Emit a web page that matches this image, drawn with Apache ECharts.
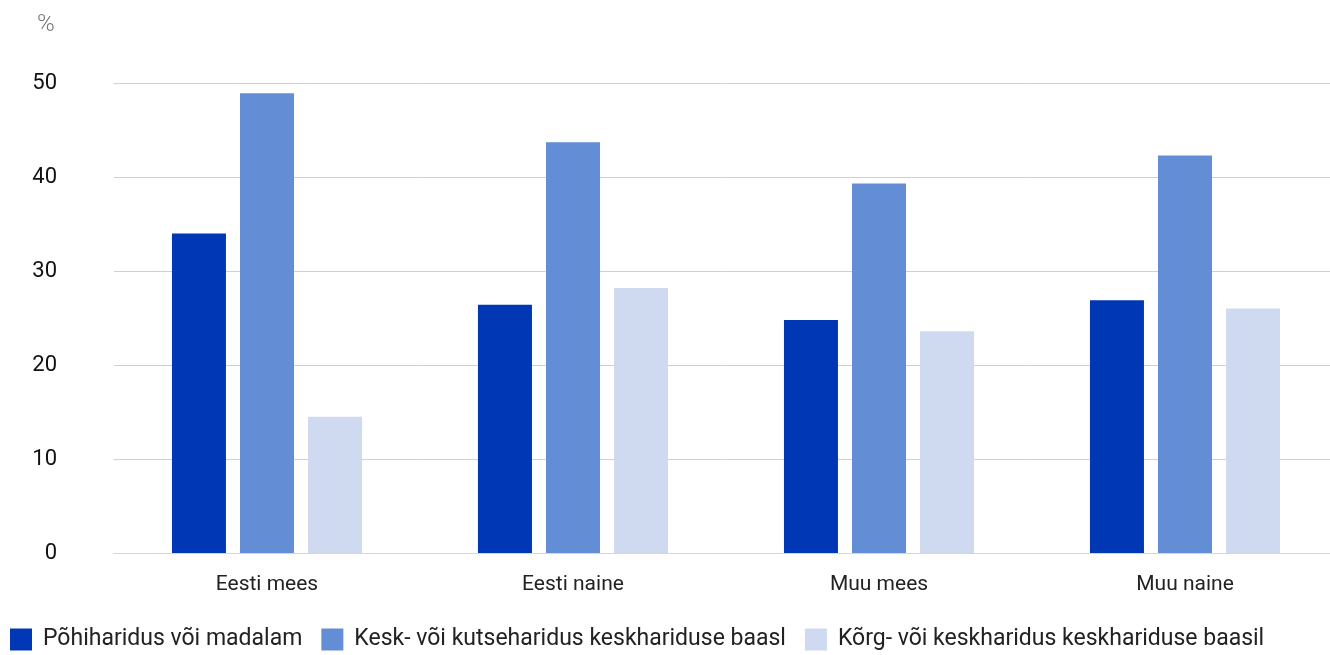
<!DOCTYPE html>
<html><head><meta charset="utf-8">
<script src="https://cdn.jsdelivr.net/npm/echarts@6/dist/echarts.min.js"></script>
<style>html,body{margin:0;padding:0;background:#fff}#c{width:1330px;height:655px}</style>
</head><body><div id="c"></div>
<script>
const categories = ['Eesti mees', 'Eesti naine', 'Muu mees', 'Muu naine'];
const seriesNames = ['Põhiharidus või madalam', 'Kesk- või kutseharidus keskhariduse baasl', 'Kõrg- või keskharidus keskhariduse baasil'];
const basic = [34.0, 26.4, 24.8, 26.9];
const secondary = [48.9, 43.7, 39.3, 42.3];
const higher = [14.5, 28.2, 23.6, 26.0];
const yTicks = [0, 10, 20, 30, 40, 50];
const colors = ['#0037b5', '#638dd5', '#cfdaf1'];

const chart = echarts.init(document.getElementById('c'));
const font = 'Roboto, "Noto Sans", sans-serif';
chart.setOption({
  animation: false,
  textStyle: { fontFamily: font },
  title: { text: '%', left: 37, top: 13, padding: 0, textStyle: { fontSize: 24, fontWeight: 300, color: '#777', fontFamily: font } },
  grid: { left: 114, width: 1224, top: 83, height: 470, containLabel: false, outerBoundsMode: 'none' },
  legend: {
    left: 10, bottom: 4, padding: 0, itemWidth: 22, itemHeight: 22, itemGap: 19, icon: 'rect',
    textStyle: { fontSize: 23, color: '#222', padding: [0, 0, 0, 6], fontFamily: font },
    data: seriesNames
  },
  xAxis: {
    type: 'category', data: categories,
    axisLine: { show: true, lineStyle: { color: '#d6d6d6' } },
    axisTick: { show: false },
    axisLabel: { fontSize: 21, color: '#222', margin: 21, fontFamily: font }
  },
  yAxis: {
    type: 'value', min: yTicks[0], max: yTicks[yTicks.length - 1], interval: 10,
    axisLine: { show: false }, axisTick: { show: false },
    splitLine: { lineStyle: { color: '#d0d0d0' } },
    axisLabel: { fontSize: 22, color: '#111', margin: 57, fontFamily: font }
  },
  series: [basic, secondary, higher].map((d, i) => ({
    name: seriesNames[i], type: 'bar', data: d, barWidth: 54, barGap: '26%',
    itemStyle: { color: colors[i] }
  }))
});
</script></body></html>
